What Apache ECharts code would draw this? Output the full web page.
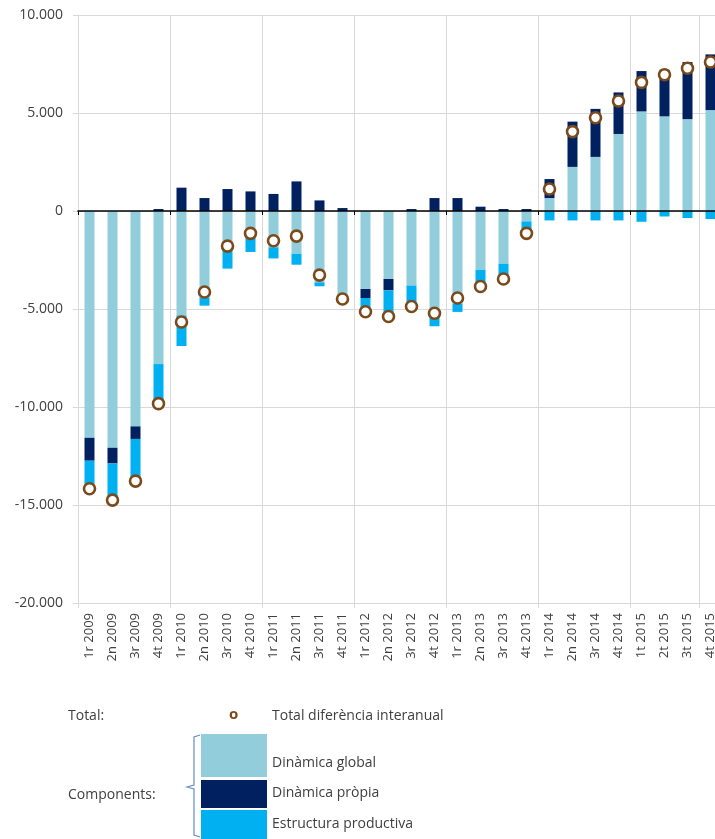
<!DOCTYPE html>
<html>
<head>
<meta charset="utf-8">
<script src="https://cdn.jsdelivr.net/npm/echarts@6/dist/echarts.min.js"></script>
<style>
  html, body { margin: 0; padding: 0; background: #fff; }
  #chart { width: 715px; height: 839px; }
</style>
</head>
<body>
<div id="chart"></div>
<script>
// trimestres
const categories = [
  '1r 2009', '2n 2009', '3r 2009', '4t 2009',
  '1r 2010', '2n 2010', '3r 2010', '4t 2010',
  '1r 2011', '2n 2011', '3r 2011', '4t 2011',
  '1r 2012', '2n 2012', '3r 2012', '4t 2012',
  '1r 2013', '2n 2013', '3r 2013', '4t 2013',
  '1r 2014', '2n 2014', '3r 2014', '4t 2014',
  '1t 2015', '2t 2015', '3t 2015', '4t 2015'
];

// components (llegits del gràfic)
const dinamicaGlobal = [
  -11570, -12080, -10990, -7810,
  -5330, -4410, -2010, -1380,
  -1850, -2180, -3640, -4530,
  -3980, -3470, -3800, -5200,
  -4730, -3000, -2690, -530,
  660, 2250, 2760, 3930,
  5080, 4830, 4690, 5150
];
const dinamicaPropia = [
  -1170, -800, -640, 100,
  1190, 660, 1120, 1000,
  870, 1510, 540, 150,
  -460, -580, 100, 660,
  660, 220, 100, 100,
  970, 2310, 2450, 2120,
  2060, 2380, 2910, 2840
];
const estructuraProductiva = [
  -1430, -1870, -2140, -2130,
  -1560, -420, -930, -710,
  -570, -560, -200, -80,
  -700, -1330, -1170, -680,
  -420, -700, -700, -450,
  -480, -480, -480, -480,
  -550, -280, -360, -410
];
const totalInteranual = [
  -14170, -14750, -13780, -9830,
  -5660, -4130, -1790, -1140,
  -1520, -1280, -3270, -4490,
  -5140, -5380, -4870, -5220,
  -4440, -3850, -3470, -1140,
  1120, 4050, 4760, 5610,
  6560, 6950, 7280, 7600
];

const yTicks = { min: -20000, max: 10000, step: 5000 };

const FONT = '"Open Sans", "Liberation Sans", sans-serif';
const TXT = '#404040';
const GRID = '#d9d9d9';

// format català: 10.000
function fmt(v) {
  const s = String(Math.abs(v)).replace(/\B(?=(\d{3})+(?!\d))/g, '.');
  return (v < 0 ? '-' : '') + s;
}

const chart = echarts.init(document.getElementById('chart'));

const option = {
  animation: false,
  backgroundColor: '#fff',
  // el gràfic original queda tallat per la dreta
  grid: { left: 78, top: 15, width: 644, height: 588, outerBoundsMode: 'none' },
  xAxis: [
    {
      type: 'category',
      data: categories,
      position: 'bottom',
      axisLine: { onZero: false, lineStyle: { color: GRID } },
      axisTick: { show: true, interval: 3, length: 5, lineStyle: { color: GRID } },
      splitLine: { show: true, interval: 3, lineStyle: { color: GRID } },
      axisLabel: {
        interval: 0, rotate: 90, margin: 10,
        fontFamily: FONT, fontSize: 13, color: TXT
      }
    },
    {
      // línia del zero
      type: 'category',
      data: categories,
      position: 'top',
      z: 10,
      axisLine: { onZero: true, lineStyle: { color: '#000', width: 1.5 } },
      axisTick: { show: true, inside: true, interval: 3, length: 4, lineStyle: { color: '#000' } },
      axisLabel: { show: false },
      splitLine: { show: false }
    }
  ],
  yAxis: {
    type: 'value',
    min: yTicks.min,
    max: yTicks.max,
    interval: yTicks.step,
    axisLine: { show: true, lineStyle: { color: GRID } },
    axisTick: { show: true, length: 5, lineStyle: { color: GRID } },
    splitLine: { lineStyle: { color: GRID } },
    axisLabel: {
      margin: 15, fontFamily: FONT, fontSize: 14, color: TXT,
      formatter: fmt
    }
  },
  series: [
    {
      name: 'Dinàmica global',
      type: 'bar',
      stack: 'comp',
      barWidth: 10,
      itemStyle: { color: '#92cddc' },
      data: dinamicaGlobal
    },
    {
      name: 'Dinàmica pròpia',
      type: 'bar',
      stack: 'comp',
      barWidth: 10,
      itemStyle: { color: '#002060' },
      data: dinamicaPropia
    },
    {
      name: 'Estructura productiva',
      type: 'bar',
      stack: 'comp',
      barWidth: 10,
      itemStyle: { color: '#00b0f0' },
      data: estructuraProductiva
    },
    {
      name: 'Total diferència interanual',
      type: 'scatter',
      symbol: 'circle',
      symbolSize: 11,
      z: 12,
      itemStyle: { color: '#fff', borderColor: '#7b4a1b', borderWidth: 2.6, opacity: 1 },
      data: totalInteranual
    }
  ],
  // llegenda feta a mà, com a l'original
  graphic: [
    { type: 'text', left: 68, top: 709, style: { text: 'Total:', fontFamily: FONT, fontSize: 14, fill: TXT } },
    { type: 'text', left: 229, top: 707, style: { text: 'o', fontFamily: FONT, fontSize: 15, fontWeight: 'bold', fill: '#7b4a1b' } },
    { type: 'text', left: 272, top: 709, style: { text: 'Total diferència interanual', fontFamily: FONT, fontSize: 14, fill: TXT } },
    { type: 'text', left: 68, top: 788, style: { text: 'Components:', fontFamily: FONT, fontSize: 14, fill: TXT } },
    {
      type: 'polyline',
      shape: { points: [[200, 735], [194, 737], [194, 785], [187, 787], [194, 789], [194, 835], [200, 837]] },
      style: { stroke: '#6a8cc0', lineWidth: 1.2, fill: null }
    },
    { type: 'rect', shape: { x: 201, y: 734, width: 66, height: 43 }, style: { fill: '#92cddc' } },
    { type: 'rect', shape: { x: 201, y: 780, width: 66, height: 28 }, style: { fill: '#002060' } },
    { type: 'rect', shape: { x: 201, y: 810, width: 66, height: 30 }, style: { fill: '#00b0f0' } },
    { type: 'text', left: 272, top: 756, style: { text: 'Dinàmica global', fontFamily: FONT, fontSize: 14, fill: TXT } },
    { type: 'text', left: 272, top: 786, style: { text: 'Dinàmica pròpia', fontFamily: FONT, fontSize: 14, fill: TXT } },
    { type: 'text', left: 272, top: 817, style: { text: 'Estructura productiva', fontFamily: FONT, fontSize: 14, fill: TXT } }
  ]
};

chart.setOption(option);
</script>
</body>
</html>
